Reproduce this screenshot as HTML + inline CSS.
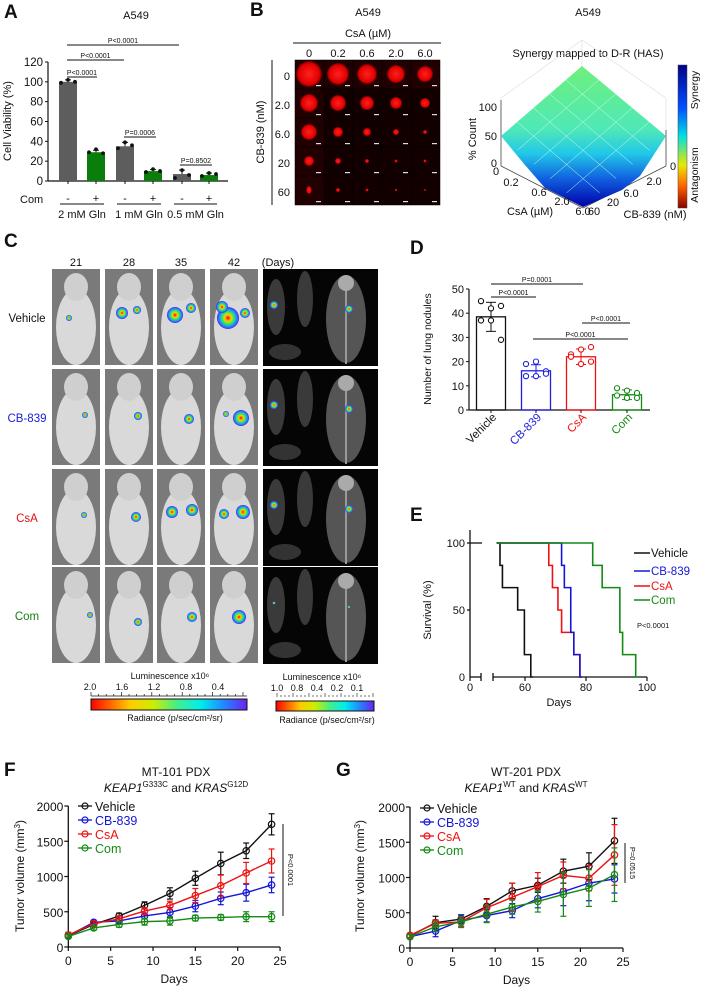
<!DOCTYPE html>
<html><head><meta charset="utf-8">
<style>
html,body{margin:0;padding:0;background:#fff;}
svg{display:block;font-family:"Liberation Sans",Arial,sans-serif;}
</style></head>
<body>
<svg id="fig" width="703" height="991" viewBox="0 0 703 991" xmlns="http://www.w3.org/2000/svg">
<defs>
<linearGradient id="surf" x1="0" y1="0" x2="0" y2="1">
<stop offset="0" stop-color="#6ef07a"/><stop offset="0.45" stop-color="#4fe8b8"/><stop offset="0.62" stop-color="#22c8e8"/><stop offset="0.8" stop-color="#1060e0"/><stop offset="1" stop-color="#0000a8"/></linearGradient>
<linearGradient id="cbar" x1="0" y1="0" x2="0" y2="1">
<stop offset="0" stop-color="#00008a"/><stop offset="0.3" stop-color="#0050ff"/><stop offset="0.5" stop-color="#00e0e0"/><stop offset="0.7" stop-color="#e8e800"/><stop offset="0.85" stop-color="#ff6000"/><stop offset="1" stop-color="#8a0000"/></linearGradient>
<linearGradient id="lum" x1="0" y1="0" x2="1" y2="0">
<stop offset="0" stop-color="#ff0000"/><stop offset="0.25" stop-color="#ffcc00"/><stop offset="0.4" stop-color="#ccee00"/><stop offset="0.55" stop-color="#44ee88"/><stop offset="0.7" stop-color="#00eeee"/><stop offset="0.85" stop-color="#2288ff"/><stop offset="1" stop-color="#6a22ee"/></linearGradient>
<radialGradient id="blob"><stop offset="0" stop-color="#ff0000"/><stop offset="0.3" stop-color="#ffcc00"/><stop offset="0.55" stop-color="#22ee66"/><stop offset="0.8" stop-color="#2288ff"/><stop offset="1" stop-color="#5522ee"/></radialGradient>
<radialGradient id="sph"><stop offset="0" stop-color="#ff2020"/><stop offset="0.8" stop-color="#e00000"/><stop offset="1" stop-color="#600000"/></radialGradient>
</defs>
<g id="root"></g>
</svg>
<script>
// ---------- data ----------
var aGroups = ["2 mM Gln","1 mM Gln","0.5 mM Gln"];
var aValues = [100, 29, 35, 10, 7, 6];
var aErr = [2, 2, 4, 1.5, 4, 2];
var aDots = [[99,102,100],[29,32,28],[33,39,36],[9,12,10],[3,11,6],[5,8,7]];
var aTicks = [0,20,40,60,80,100,120];

var dCats = ["Vehicle","CB-839","CsA","Com"];
var dValues = [38.5, 16.2, 22.0, 6.3];
var dSD = [6, 2.5, 3.2, 2];
var dDots = [[45,42,43,37,37,29],[19,20,16,14,14,15],[23,25,26,22,19,20],[9,8,7,6,5,5]];
var dTicks = [0,10,20,30,40,50];

var eVehicle = [[50,100],[51.8,83.3],[52.6,66.7],[57.6,50],[59.8,16.7],[61.9,0]];
var eCB = [[50,100],[72,83.3],[72.9,66.7],[75,33.3],[76,16.7],[78,0]];
var eCsA = [[50,100],[67.8,83.3],[69,66.7],[70.8,50],[72,33.3],[76,16.7],[78,0]];
var eCom = [[50,100],[82.2,83.3],[85.3,66.7],[91.1,33.3],[92,16.7],[96.3,0]];

var days = [0,3,6,9,12,15,18,21,24];
var fVehicle = [160,320,440,590,760,975,1185,1365,1740];
var fCB = [160,350,370,440,490,580,690,770,880];
var fCsA = [170,330,400,510,590,730,870,1050,1220];
var fCom = [150,270,320,360,370,410,420,430,430];
var fVehicleErr = [30,30,40,50,80,100,160,110,150];
var fCBErr = [20,30,30,40,70,80,90,120,110];
var fCsAErr = [40,40,40,50,60,100,150,150,170];
var fComErr = [20,30,40,50,60,40,40,70,70];
var gVehicle = [170,360,410,590,810,890,1090,1160,1520];
var gCB = [160,240,390,460,530,700,800,920,980];
var gCsA = [180,350,370,570,720,870,1030,990,1320];
var gCom = [160,300,370,480,580,660,760,850,1040];
var gVehicleErr = [30,90,60,110,110,100,170,190,320];
var gCBErr = [30,80,80,90,100,130,200,250,200];
var gCsAErr = [30,50,60,120,200,200,190,180,430];
var gComErr = [30,70,80,120,100,150,310,260,380];
var tvTicks = [0,500,1000,1500,2000];
var dayTicks = [0,5,10,15,20,25];

// ---------- helpers ----------
var NS="http://www.w3.org/2000/svg";
var root=document.getElementById('root');
function mk(tag,attrs,parent){var e=document.createElementNS(NS,tag);for(var k in attrs)e.setAttribute(k,attrs[k]);(parent||root).appendChild(e);return e;}
function tx(x,y,s,size,opts,parent){opts=opts||{};var a={x:x,y:y,'font-size':size,fill:opts.fill||'#111','text-anchor':opts.anchor||'middle'};if(opts.weight)a['font-weight']=opts.weight;if(opts.rot!=null)a.transform='rotate('+opts.rot+' '+x+' '+y+')';if(opts.style)a['font-style']=opts.style;var e=mk('text',a,parent);e.textContent=s;return e;}
function ln(x1,y1,x2,y2,c,w,parent){return mk('line',{x1:x1,y1:y1,x2:x2,y2:y2,stroke:c||'#111','stroke-width':w||1},parent);}

// ---------- Panel letters ----------
var L=[['A',4,18],['B',250,16],['C',4,247],['D',410,254],['E',410,521],['F',4,776],['G',336,776]];
L.forEach(function(p){var t=tx(p[1],p[2],p[0],19,{anchor:'start',weight:'bold'});

});

// ---------- Panel A ----------
(function(){
var g=mk('g',{});


function y(v){return 181-v*(119/120);}
var t=tx(136,19,'A549',11,{},g);


ln(48,y(0),228,y(0),'#111',1.2,g);ln(48,y(0),48,y(120),'#111',1.2,g);
aTicks.forEach(function(v){ln(45,y(v),48,y(v),'#111',1,g);var tk=tx(43,y(v)+4,String(v),11.5,{anchor:'end'},g);

});
var yl=tx(11,121,'Cell Viability (%)',11,{rot:-90},g);


var cx=[68,96,125,153,182,209];
aValues.forEach(function(v,i){
 var c=i%2==0?'#5d5d5d':'#0b7d0b';
 var b=mk('rect',{x:cx[i]-9,y:y(v),width:18,height:y(0)-y(v),fill:c},g);
 
 
 ln(cx[i],y(v),cx[i],y(v+aErr[i]),'#111',1,g);ln(cx[i]-3,y(v+aErr[i]),cx[i]+3,y(v+aErr[i]),'#111',1,g);
 aDots[i].forEach(function(d,j){var dt=mk('circle',{cx:cx[i]-7+j*7,cy:y(d),r:1.9,fill:'#111'},g);
 
 });
 ln(cx[i],y(0),cx[i],y(0)+3,'#111',1,g);
 tx(cx[i],202,i%2==0?'-':'+',11,{},g);
});
var cl=tx(20,203,'Com',11,{anchor:'start'},g);


aGroups.forEach(function(s,k){ln(cx[2*k]-8,204,cx[2*k+1]+8,204,'#111',1,g);var gl=tx((cx[2*k]+cx[2*k+1])/2,218,s,11,{},g);

});
[[67,179,45,'P<0.0001'],[67,124,60,'P<0.0001'],[67,97,77,'P<0.0001'],[124,156,137,'P=0.0006'],[180,212,165,'P=0.8502']].forEach(function(b){
 ln(b[0],b[2],b[1],b[2],'#111',0.9,g);var pt=tx((b[0]+b[1])/2,b[2]-2,b[3],7,{},g);
 
 });
})();

// ---------- Panel B spheroids ----------
(function(){
var g=mk('g',{});


tx(368,16,'A549',11,{},g);
tx(368,37,'CsA (\u00b5M)',11,{},g);
ln(293,43,441,43,'#111',1,g);
var cols=['0','0.2','0.6','2.0','6.0'],rows=['0','2.0','6.0','20','60'];
cols.forEach(function(c,i){tx(309+i*29,57,c,11,{},g);});
rows.forEach(function(r,j){tx(290,80+j*29,r,11,{anchor:'end'},g);});
ln(272,60,272,205,'#111',1,g);
tx(264,132,'CB-839 (nM)',11,{rot:-90},g);
var rad=[[13,11,10,9,8],[9,8,7,6,5],[8,5,4,3,2],[5,3,2,1.5,1.5],[4,2,1.5,1.2,1]];
for(var j=0;j<5;j++)for(var i=0;i<5;i++){
 var x=295+i*29,y=60+j*29;
 mk('rect',{x:x,y:y,width:29,height:29,fill:j==0||i==0?'#200000':'#120000',stroke:'#000','stroke-width':0.5},g);
 var s=mk('ellipse',{cx:x+14,cy:y+14,rx:rad[j][i]*(j==4&&i==0?0.7:1),ry:rad[j][i],fill:'url(#sph)'},g);
 
 
 mk('rect',{x:x+21,y:y+25,width:5,height:1.2,fill:'#ddd'},g);
}
})();

// ---------- Panel B surface ----------
(function(){
var g=mk('g',{});


tx(588,16,'A549',11,{},g);
tx(588,57,'Synergy mapped to D-R (HAS)',11,{},g);
[[501,136,501,98],[501,98,582,40],[582,40,666,98],[666,98,666,136],[582,40,582,66]].forEach(function(l){ln(l[0],l[1],l[2],l[3],'#ddd',0.6,g);});
ln(501,100,501,166,'#444',0.8,g);
ln(501,166,583,208,'#444',0.8,g);ln(583,208,666,166,'#444',0.8,g);ln(666,166,666,130,'#444',0.8,g);
var p=mk('path',{d:'M582,66 L666,136 L640,176 L622,190 L583,207 L545,188 L525,165 L501,136 Z',fill:'url(#surf)'},g);


for(var k=1;k<5;k++){var t=k/5;
 ln(582+(501-582)*t,66+(136-66)*t,666+(583-666)*t,136+(207-136)*t,'#cfe',0.5,g);
 ln(582+(666-582)*t,66+(136-66)*t,501+(583-501)*t,136+(207-136)*t,'#cfe',0.5,g);}
tx(497,111,'100',11,{anchor:'end'},g);tx(497,140,'50',11,{anchor:'end'},g);tx(497,167,'0',11,{anchor:'end'},g);
tx(476,139,'% Count',11,{rot:-90},g);
[['0',496,175],['0.2',511,186],['0.6',539,196],['2.0',562,205],['6.0',583,215]].forEach(function(a){tx(a[1],a[2],a[0],11,{},g);});
tx(530,215,'CsA (\u00b5M)',11,{},g);
[['60',594,215],['20',613,206],['6.0',631,197],['2.0',654,185],['0',673,170]].forEach(function(a){tx(a[1],a[2],a[0],11,{},g);});
tx(655,218,'CB-839 (nM)',11,{},g);
var cb=mk('rect',{x:678,y:65,width:9,height:143,fill:'url(#cbar)',stroke:'#444','stroke-width':0.5},g);


tx(698,90,'Synergy',10.5,{rot:-90},g);tx(698,175,'Antagonism',10.5,{rot:-90},g);
})();

// ---------- Panel C imaging ----------
(function(){
var g=mk('g',{});


var colX=[52,105,157,210],rowY=[269,369,469,567],labels=['Vehicle','CB-839','CsA','Com'],lc=['#111','#1a1ad8','#e01010','#148014'];
['21','28','35','42'].forEach(function(d,i){tx(colX[i]+24,266,d,11,{},g);});
tx(278,266,'(Days)',11,{},g);
var veB=[[[69,318,3]],[[122,313,6],[137,310,4]],[[175,315,8],[191,308,5]],[[228,318,11],[222,307,6],[245,313,5]]];
var cbB=[[[85,415,3]],[[138,416,4]],[[189,419,5]],[[241,418,8],[226,414,3]]];
var csB=[[[84,515,3]],[[136,517,5]],[[172,512,6],[192,510,6]],[[224,514,5],[243,512,7]]];
var coB=[[[90,615,3]],[[138,622,4]],[[192,617,5]],[[239,617,7]]];
var allB=[veB,cbB,csB,coB];
for(var r=0;r<4;r++){
 var lab=tx(27,rowY[r]+53,labels[r],11.5,{fill:lc[r]},g);
 
 
 for(var c=0;c<4;c++){
  var x=colX[c],y=rowY[r];
  var im=mk('rect',{x:x,y:y,width:48,height:96,fill:'#7a7a7a'},g);
  
  
  mk('ellipse',{cx:x+24,cy:y+58,rx:20,ry:38,fill:'#d9d9d9'},g);
  mk('ellipse',{cx:x+24,cy:y+18,rx:12,ry:14,fill:'#cfcfcf'},g);
  allB[r][c].forEach(function(b){var bb=mk('circle',{cx:b[0],cy:b[1],r:b[2],fill:'url(#blob)'},g);
  
  });
 }
 var ct=mk('rect',{x:263,y:rowY[r],width:115,height:97,fill:'#050505'},g);
 
 
 mk('ellipse',{cx:276,cy:rowY[r]+38,rx:9,ry:28,fill:'#3a3a3a'},g);
 mk('ellipse',{cx:305,cy:rowY[r]+30,rx:8,ry:28,fill:'#3a3a3a'},g);
 mk('ellipse',{cx:285,cy:rowY[r]+83,rx:16,ry:8,fill:'#333'},g);
 mk('ellipse',{cx:346,cy:rowY[r]+50,rx:20,ry:44,fill:'#555'},g);
 mk('line',{x1:346,y1:rowY[r]+10,x2:346,y2:rowY[r]+95,stroke:'#999','stroke-width':2},g);
 mk('circle',{cx:346,cy:rowY[r]+14,r:8,fill:'#aaa'},g);
 mk('circle',{cx:274,cy:rowY[r]+36,r:r==3?1.5:4,fill:'url(#blob)'},g);
 mk('circle',{cx:349,cy:rowY[r]+40,r:r==3?1.5:4,fill:'url(#blob)'},g);
}
tx(170,679,'Luminescence  x10\u2076',9,{},g);
['2.0','1.6','1.2','0.8','0.4'].forEach(function(s,i){tx(90+i*32,690,s,9,{},g);});
for(var i=0;i<=20;i++)ln(91+i*7.6,696,91+i*7.6,i%4==0?692:694,'#111',0.7,g);
ln(91,696,247,696,'#111',0.7,g);
var cb1=mk('rect',{x:91,y:699,width:156,height:11,fill:'url(#lum)',stroke:'#111','stroke-width':1},g);


tx(175,721,'Radiance (p/sec/cm\u00b2/sr)',9,{},g);
tx(322,680,'Luminescence  x10\u2076',9,{},g);
['1.0','0.8','0.4','0.2','0.1'].forEach(function(s,i){tx(277+i*20,691,s,9,{},g);});
for(var i=0;i<=24;i++)ln(277+i*4,697,277+i*4,i%4==0?693:695,'#111',0.6,g);
var cb2=mk('rect',{x:276,y:701,width:98,height:10,fill:'url(#lum)',stroke:'#111','stroke-width':1},g);


tx(327,723,'Radiance (p/sec/cm\u00b2/sr)',9,{},g);
})();

// ---------- Panel D ----------
(function(){
var g=mk('g',{});


function y(v){return 410-v*2.42;}
var cx=[491,536,581,627],col=['#111','#2020e0','#ee1111','#148a14'];
ln(469,y(0),650,y(0),'#111',1.2,g);ln(469,y(0),469,y(50),'#111',1.2,g);
dTicks.forEach(function(v){ln(466,y(v),469,y(v),'#111',1,g);var tk=tx(464,y(v)+4,String(v),11,{anchor:'end'},g);

});
var yl=tx(431,349,'Number of lung nodules',10.5,{rot:-90},g);


dValues.forEach(function(v,i){
 var b=mk('rect',{x:cx[i]-14.5,y:y(v),width:29,height:y(0)-y(v),fill:'none',stroke:col[i],'stroke-width':1.3},g);
 
 
 ln(cx[i],y(v-dSD[i]),cx[i],y(v+dSD[i]),col[i],1,g);
 ln(cx[i]-5,y(v+dSD[i]),cx[i]+5,y(v+dSD[i]),col[i],1,g);ln(cx[i]-5,y(v-dSD[i]),cx[i]+5,y(v-dSD[i]),col[i],1,g);
 dDots[i].forEach(function(d,j){var dt=mk('circle',{cx:cx[i]-10+(j%3)*10,cy:y(d),r:2.6,fill:'#fff',stroke:col[i],'stroke-width':1.1},g);
 
 });
 ln(cx[i],y(0),cx[i],y(0)+3,'#111',1,g);
 var xl=tx(cx[i]+6,418,dCats[i],11.5,{fill:col[i],anchor:'end',rot:-45},g);
 
 
});
[[491,583,284,'P=0.0001'],[491,536,297,'P<0.0001'],[582,630,323,'P<0.0001'],[533,628,339,'P<0.0001']].forEach(function(b){
 ln(b[0],b[2],b[1],b[2],'#111',0.9,g);var pt=tx((b[0]+b[1])/2,b[2]-2,b[3],7,{},g);
 
 });
})();

// ---------- Panel E ----------
(function(){
var g=mk('g',{});


function x(d){return d<10?470+d*1.1:525+(d-60)*3.05;}
function y(p){return 677-p*1.34;}
ln(470,530,470,677,'#111',1.3,g);
ln(470,677,481,677,'#111',1.3,g);ln(481,673,481,681,'#111',1.3,g);
ln(493,677,647,677,'#111',1.3,g);ln(493,673,493,681,'#111',1.3,g);
ln(467,y(100),482,y(100),'#111',1.3,g);ln(467,y(50),470,y(50),'#111',1.3,g);
[[100,'100'],[50,'50'],[0,'0']].forEach(function(t){tx(465,y(t[0])+4,t[1],11,{anchor:'end'},g);});
[[0,470],[60,525],[80,586],[100,647]].forEach(function(t){ln(t[1],677,t[1],681,'#111',1.2,g);tx(t[1],691,String(t[0]),11,{},g);});
tx(559,706,'Days',11,{},g);
tx(431,610,'Survival (%)',11,{rot:-90},g);
var series=[[eVehicle,'#111','Vehicle'],[eCsA,'#ee1111','CsA'],[eCB,'#1515d8','CB-839'],[eCom,'#148a14','Com']];
series.forEach(function(s){
 var d='M'+(x(s[0][0][0])+2)+','+y(s[0][0][1]);
 for(var i=1;i<s[0].length;i++){d+=' H'+x(s[0][i][0])+' V'+y(s[0][i][1]);}
 d+=' h2';
 var p=mk('path',{d:d,fill:'none',stroke:s[1],'stroke-width':1.6},g);
 
 
});
[['Vehicle','#111',553],['CB-839','#1515d8',571],['CsA','#ee1111',586],['Com','#148a14',600]].forEach(function(l){
 ln(634,l[2],650,l[2],l[1],1.5,g);var t=tx(651,l[2]+4,l[0],11.5,{anchor:'start',fill:l[1]},g);
 
 });
tx(637,628,'P<0.0001',7.5,{anchor:'start'},g);
})();

// ---------- Panels F & G ----------
function growth(cfg){
var g=mk('g',{});


function x(d){return cfg.x0+d*cfg.sx;}
function y(v){return cfg.y0-v*0.0705;}
ln(x(0),y(0),x(25),y(0),'#111',1.3,g);ln(x(0),y(0),x(0),y(2000),'#111',1.3,g);
tvTicks.forEach(function(v){ln(x(0)-4,y(v),x(0),y(v),'#111',1.2,g);var t=tx(x(0)-5,y(v)+5,String(v),12,{anchor:'end'},g);

});
dayTicks.forEach(function(d){ln(x(d),y(0),x(d),y(0)+4,'#111',1.2,g);var t=tx(x(d),y(0)+18,String(d),12,{},g);

});
var xt=tx(x(12.5),y(0)+36,'Days',12,{},g);


var yt=mk('text',{x:cfg.ylx,y:876,'font-size':12,'text-anchor':'middle',fill:'#111',transform:'rotate(-90 '+cfg.ylx+' 876)'},g);
yt.innerHTML='Tumor volume (mm<tspan dy="-4" font-size="8">3</tspan><tspan dy="4">)</tspan>';


var t1=tx(cfg.tx,776,cfg.title,12,{},g);


var t2=mk('text',{x:cfg.tx,y:792,'font-size':12,'text-anchor':'middle',fill:'#111'},g);
t2.innerHTML=cfg.sub;


cfg.series.forEach(function(s){
 s.vals.forEach(function(v,i){var e=s.err[i];
  ln(x(days[i]),y(v-e),x(days[i]),y(v+e),s.c,1.2,g);
  ln(x(days[i])-3,y(v+e),x(days[i])+3,y(v+e),s.c,1.2,g);ln(x(days[i])-3,y(v-e),x(days[i])+3,y(v-e),s.c,1.2,g);});
 var pts=s.vals.map(function(v,i){return x(days[i])+','+y(v);}).join(' ');
 var pl=mk('polyline',{points:pts,fill:'none',stroke:s.c,'stroke-width':1.4},g);
 
 
 s.vals.forEach(function(v,i){var c=mk('circle',{cx:x(days[i]),cy:y(v),r:3.2,fill:'#fff','fill-opacity':0,stroke:s.c,'stroke-width':1.2},g);
 
 });
});
cfg.series.forEach(function(s,k){var ly=cfg.ly+k*14;
 ln(cfg.lx-7,ly,cfg.lx+7,ly,s.c,1.3,g);mk('circle',{cx:cfg.lx,cy:ly,r:3,fill:'none',stroke:s.c,'stroke-width':1.2},g);
 var t=tx(cfg.lx+10,ly+5,s.n,12.5,{anchor:'start',fill:s.c},g);
 
 });
ln(cfg.px,cfg.py1,cfg.px,cfg.py2,'#111',1,g);
tx(cfg.px+5,(cfg.py1+cfg.py2)/2,cfg.p,7.5,{rot:90},g);
}
growth({name:'panel-f-tumor-growth',x0:68.3,sx:8.47,y0:947,ylx:24,tx:176,title:'MT-101 PDX',
 sub:'<tspan font-style="italic">KEAP1</tspan><tspan dy="-5" font-size="8">G333C</tspan><tspan dy="5"> and </tspan><tspan font-style="italic">KRAS</tspan><tspan dy="-5" font-size="8">G12D</tspan>',
 series:[{n:'Vehicle',c:'#111',vals:fVehicle,err:fVehicleErr},{n:'CB-839',c:'#1515d8',vals:fCB,err:fCBErr},{n:'CsA',c:'#ee1111',vals:fCsA,err:fCsAErr},{n:'Com',c:'#148a14',vals:fCom,err:fComErr}],
 lx:85,ly:806,px:283,py1:824,py2:916,p:'P<0.0001'});
growth({name:'panel-g-tumor-growth',x0:410,sx:8.52,y0:948,ylx:364,tx:526,title:'WT-201 PDX',
 sub:'<tspan font-style="italic">KEAP1</tspan><tspan dy="-5" font-size="8">WT</tspan><tspan dy="5"> and </tspan><tspan font-style="italic">KRAS</tspan><tspan dy="-5" font-size="8">WT</tspan>',
 series:[{n:'Vehicle',c:'#111',vals:gVehicle,err:gVehicleErr},{n:'CB-839',c:'#1515d8',vals:gCB,err:gCBErr},{n:'CsA',c:'#ee1111',vals:gCsA,err:gCsAErr},{n:'Com',c:'#148a14',vals:gCom,err:gComErr}],
 lx:427,ly:808,px:625,py1:843,py2:883,p:'P=0.0515'});
</script>
</body></html>
